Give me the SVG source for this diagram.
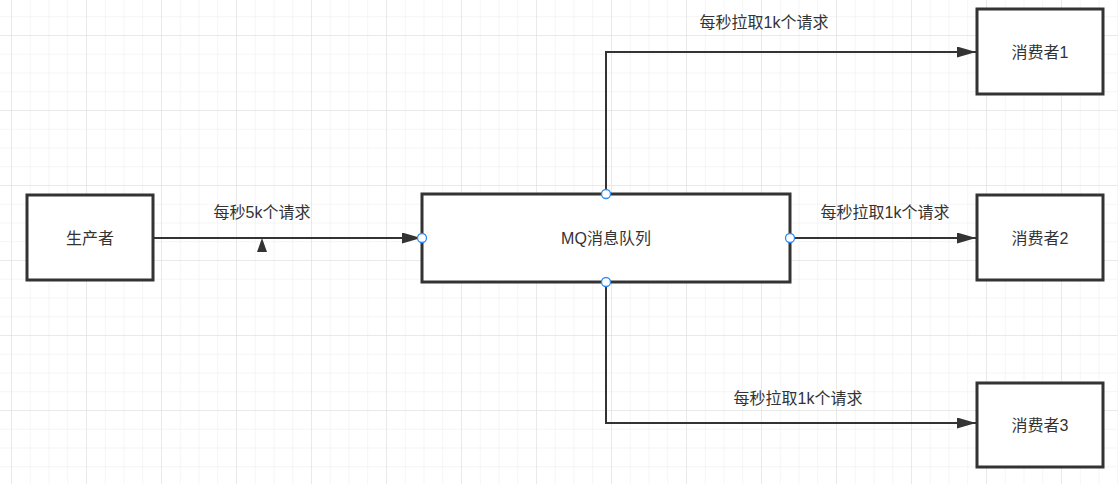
<svg xmlns="http://www.w3.org/2000/svg" width="1118" height="484" viewBox="0 0 1118 484">
<defs>
<pattern id="minor" x="11" y="-2.5" width="18.75" height="18.75" patternUnits="userSpaceOnUse">
<path d="M0 0V18.75M0 0H18.75" fill="none" stroke="#ececec" stroke-width="1"/>
</pattern>
<pattern id="major" x="11" y="35" width="75" height="75" patternUnits="userSpaceOnUse">
<path d="M0 0V75M0 0H75" fill="none" stroke="#dedede" stroke-width="1"/>
</pattern>
<marker id="arr" viewBox="0 0 19 11" refX="19" refY="5.5" markerWidth="19" markerHeight="11" orient="auto" markerUnits="userSpaceOnUse">
<path d="M0 0L19 5.5L0 11Z" fill="#333"/>
</marker>
</defs>
<style>
.box{fill:#fff;stroke:#333;stroke-width:3}
.lbl{font-family:"Liberation Sans","Noto Sans CJK SC",sans-serif;font-size:16px;fill:#333;text-anchor:middle;dominant-baseline:central}
.edge{fill:none;stroke:#333;stroke-width:2}
.pt{fill:#fff;stroke:#2d8cf0;stroke-width:1.3}
</style>
<rect width="1118" height="484" fill="#fff"/>
<rect width="1118" height="484" fill="url(#minor)"/>
<rect width="1118" height="484" fill="url(#major)"/>
<g id="connectors">
<path class="edge" d="M154 238H421" marker-end="url(#arr)"/>
<path d="M262 238L267 252H257Z" fill="#333"/>
<path class="edge" d="M606 194V52H976" marker-end="url(#arr)"/>
<path class="edge" d="M790 238H976" marker-end="url(#arr)"/>
<path class="edge" d="M606 282V423H976" marker-end="url(#arr)"/>
<text class="lbl" x="262" y="212">每秒5k个请求</text>
<text class="lbl" x="764" y="22">每秒拉取1k个请求</text>
<text class="lbl" x="885" y="212">每秒拉取1k个请求</text>
<text class="lbl" x="798" y="398">每秒拉取1k个请求</text>
</g>
<g id="producer">
<rect class="box" x="27" y="195" width="126" height="85"/>
<text class="lbl" x="90" y="238">生产者</text>
</g>
<g id="mq">
<rect class="box" x="422" y="194" width="368" height="88"/>
<text class="lbl" x="606" y="238">MQ消息队列</text>
<circle class="pt" cx="606" cy="194" r="4.5"/>
<circle class="pt" cx="790" cy="238" r="4.5"/>
<circle class="pt" cx="606" cy="282" r="4.5"/>
<circle class="pt" cx="422" cy="238" r="4.5"/>
</g>
<g id="consumer1">
<rect class="box" x="977" y="9" width="126" height="85"/>
<text class="lbl" x="1040" y="52">消费者1</text>
</g>
<g id="consumer2">
<rect class="box" x="977" y="195" width="126" height="85"/>
<text class="lbl" x="1040" y="238">消费者2</text>
</g>
<g id="consumer3">
<rect class="box" x="977" y="383" width="126" height="84"/>
<text class="lbl" x="1040" y="425">消费者3</text>
</g>
</svg>
